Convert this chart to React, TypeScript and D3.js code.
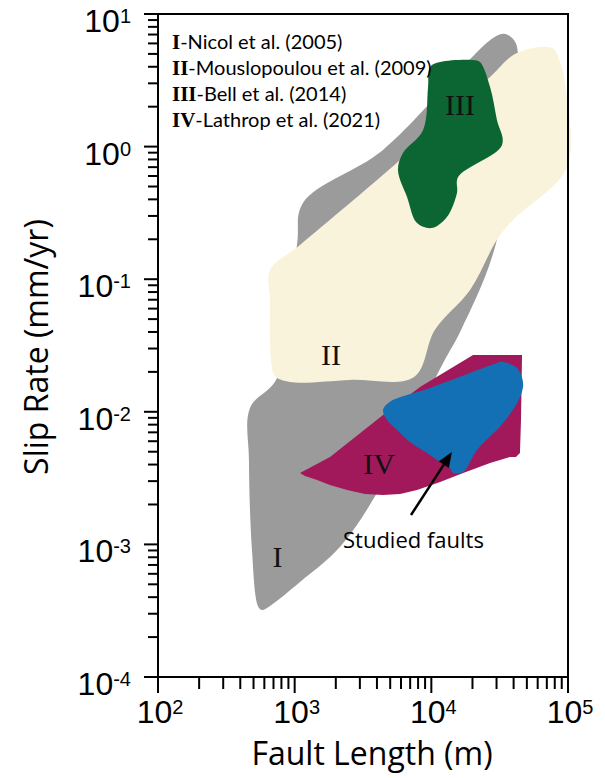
import React from 'react';
import * as d3 from 'd3';

// Domain / tick data
const xDecades = [2, 3, 4, 5];
const yDecades = [-4, -3, -2, -1, 0, 1];
const minorMultipliers = [2, 3, 4, 5, 6, 7, 8, 9];

// Legend
const legendNumerals = ['I', 'II', 'III', 'IV'];
const legendRefs = ['-Nicol et al. (2005)', '-Mouslopoulou et al. (2009)', '-Bell et al. (2014)', '-Lathrop et al. (2021)'];

// Region outlines: [fault length (m), slip rate (mm/yr)]
const nicol2005: [number, number][] = [
  [540, 3.4e-4], [577, 3.2e-4], [660, 3.43e-4], [1094, 5.2e-4], [2150, 9.6e-4], [4000, 2.44e-3],
  [12200, 0.0233], [16500, 0.0414], [30200, 0.198], [43000, 5.08], [40200, 6.37], [34600, 7.07],
  [28300, 6.59], [4430, 0.943], [1150, 0.376], [1040, 0.181], [743, 0.018], [471, 0.0107],
  [463, 0.00433], [487, 9.07e-4],
];
const mouslopoulou2009: [number, number][] = [
  [660, 0.117], [1094, 0.181], [5900, 0.792], [26900, 3.35], [42300, 5.08], [76400, 5.54],
  [87400, 4.35], [96700, 2.67], [98300, 0.70], [39600, 0.28], [30200, 0.198], [19200, 0.083],
  [10600, 0.0414], [7470, 0.0183], [2540, 0.0174], [924, 0.0168], [718, 0.0186], [671, 0.0246],
  [660, 0.0697],
];
const bell2014: [number, number][] = [
  [9780, 3.99], [11600, 4.35], [20200, 4.50], [22700, 4.35], [26900, 2.82], [30200, 1.59],
  [32900, 1.03], [15700, 0.59], [15400, 0.447], [13000, 0.294], [10100, 0.243], [7860, 0.265],
  [6640, 0.417], [5700, 0.666], [6200, 0.895], [8690, 1.33], [9460, 2.82],
];
const lathrop2021: [number, number][] = [
  [1094, 3.46e-3], [1814, 4.56e-3], [4430, 9.46e-3], [8260, 0.0154], [20200, 0.0268], [46100, 0.0268],
  [45300, 0.00868], [44500, 0.00489], [41600, 0.00456], [37600, 0.00456], [26900, 0.00411],
  [17100, 0.00346], [11600, 0.00296], [7860, 0.00257], [5900, 0.0024], [4430, 0.00236],
  [3270, 0.0024], [2420, 0.00257], [1810, 0.00281], [1460, 0.00306], [1190, 0.00328],
];
const studiedFaults: [number, number][] = [
  [4430, 0.0103], [4740, 0.00868], [5610, 0.00729], [6980, 0.00592], [9300, 0.00489], [11000, 0.00433],
  [13700, 0.00377], [14400, 0.00346], [17100, 0.00352], [21600, 0.00515], [33500, 0.00823],
  [44500, 0.0129], [46900, 0.0165], [42300, 0.0214], [32900, 0.0238], [30200, 0.0233],
  [9780, 0.0151], [4980, 0.0119],
];

// Annotations (data coordinates)
const regionLabels: { text: string; L: number; S: number }[] = [
  { text: 'I', L: 749, S: 6.75e-4 },
  { text: 'II', L: 1845, S: 0.02254 },
  { text: 'III', L: 16210, S: 1.731 },
  { text: 'IV', L: 4140, S: 3.4e-3 },
];
const arrowFrom: [number, number] = [7100, 1.666e-3];
const arrowTo: [number, number] = [14160, 4.97e-3];
const studiedLabelAt: [number, number] = [2258, 9.39e-4];

const COLORS = {
  nicol: '#9b9b9b',
  mous: '#faf3dc',
  bell: '#0b6634',
  lathrop: '#a1195a',
  studied: '#1470b5',
};

export default function App() {
  const W = 605, H = 778;
  const x = d3.scaleLog().domain([1e2, 1e5]).range([158, 568]);
  const y = d3.scaleLog().domain([1e-4, 1e1]).range([677, 14]);
  const [x0, x1] = x.range();
  const [y0, y1] = y.range();

  const smooth = d3
    .line<[number, number]>()
    .x((d) => x(d[0]))
    .y((d) => y(d[1]))
    .curve(d3.curveCatmullRomClosed.alpha(0.5));
  const straight = d3
    .line<[number, number]>()
    .x((d) => x(d[0]))
    .y((d) => y(d[1]))
    .curve(d3.curveLinearClosed);

  const yTicks: { v: number; major: boolean }[] = [];
  yDecades.forEach((e) => {
    yTicks.push({ v: Math.pow(10, e), major: true });
    if (e < 1) minorMultipliers.forEach((m) => yTicks.push({ v: m * Math.pow(10, e), major: false }));
  });
  const xTicks: { v: number; major: boolean }[] = [];
  xDecades.forEach((e) => {
    xTicks.push({ v: Math.pow(10, e), major: true });
    if (e < 5) minorMultipliers.forEach((m) => xTicks.push({ v: m * Math.pow(10, e), major: false }));
  });

  const ax = x(arrowFrom[0]), ay = y(arrowFrom[1]);
  const bx = x(arrowTo[0]), by = y(arrowTo[1]);
  const ang = Math.atan2(by - ay, bx - ax);
  const headLen = 15, headW = 6;
  const baseX = bx - headLen * Math.cos(ang), baseY = by - headLen * Math.sin(ang);
  const head = [
    [bx, by],
    [baseX + headW * Math.sin(ang), baseY - headW * Math.cos(ang)],
    [baseX - headW * Math.sin(ang), baseY + headW * Math.cos(ang)],
  ];

  const sans = "'Open Sans', sans-serif";
  const tickFont = "'Liberation Sans', Arial, sans-serif";
  const serif = "'Liberation Serif', 'Times New Roman', serif";

  return (
    <svg width={W} height={H} style={{ position: 'absolute', left: 0, top: 0, background: '#fff' }}>
      <rect x={0} y={0} width={W} height={H} fill="#fff" />
      <path d={smooth(nicol2005) || ''} fill={COLORS.nicol} />
      <path d={smooth(mouslopoulou2009) || ''} fill={COLORS.mous} />
      <path d={smooth(bell2014) || ''} fill={COLORS.bell} />
      <path d={straight(lathrop2021) || ''} fill={COLORS.lathrop} />
      <path d={smooth(studiedFaults) || ''} fill={COLORS.studied} />

      {regionLabels.map((r) => (
        <text key={r.text} x={x(r.L)} y={y(r.S)} textAnchor="middle" fontFamily={serif} fontSize={30} fill="#111">
          {r.text}
        </text>
      ))}

      <line x1={ax} y1={ay} x2={baseX} y2={baseY} stroke="#000" strokeWidth={2.5} />
      <polygon points={head.map((p) => p.join(',')).join(' ')} fill="#000" />
      <text x={x(studiedLabelAt[0])} y={y(studiedLabelAt[1])} fontFamily={sans} fontSize={22} fill="#000">
        Studied faults
      </text>

      {legendNumerals.map((n, i) => (
        <text key={n} x={172} y={49 + i * 26} fontSize={20} fill="#000">
          <tspan fontFamily={serif} fontWeight="bold" fontSize={21}>{n}</tspan>
          <tspan fontFamily="Lato, sans-serif">{legendRefs[i]}</tspan>
        </text>
      ))}

      {/* frame */}
      <rect x={x0} y={y1} width={x1 - x0} height={y0 - y1} fill="none" stroke="#000" strokeWidth={2} />

      {/* y ticks */}
      {yTicks.map((t, i) => (
        <line key={'yt' + i} x1={x0 - (t.major ? 14 : 10)} x2={x0} y1={y(t.v)} y2={y(t.v)} stroke="#000" strokeWidth={2} />
      ))}
      {yDecades.map((e) => (
        <text key={'yl' + e} x={131} y={y(Math.pow(10, e)) + 18} textAnchor="end" fontFamily={tickFont} fontSize={32} fill="#000">
          10<tspan fontSize={20} dy={-9}>{e < 0 ? '-' + Math.abs(e) : String(e)}</tspan>
        </text>
      ))}

      {/* x ticks */}
      {xTicks.map((t, i) => (
        <line key={'xt' + i} x1={x(t.v)} x2={x(t.v)} y1={y0} y2={y0 + (t.major ? 16 : 12)} stroke="#000" strokeWidth={2} />
      ))}
      {xDecades.map((e) => (
        <text key={'xl' + e} x={x(Math.pow(10, e)) + 2} y={723} textAnchor="middle" fontFamily={tickFont} fontSize={32} fill="#000">
          10<tspan fontSize={20} dy={-9}>{String(e)}</tspan>
        </text>
      ))}

      <text x={372} y={765} textAnchor="middle" fontFamily={sans} fontSize={32} fill="#000">
        Fault Length (m)
      </text>
      <text transform="translate(48,347) rotate(-90)" textAnchor="middle" fontFamily={sans} fontSize={32} fill="#000">
        Slip Rate (mm/yr)
      </text>
    </svg>
  );
}
